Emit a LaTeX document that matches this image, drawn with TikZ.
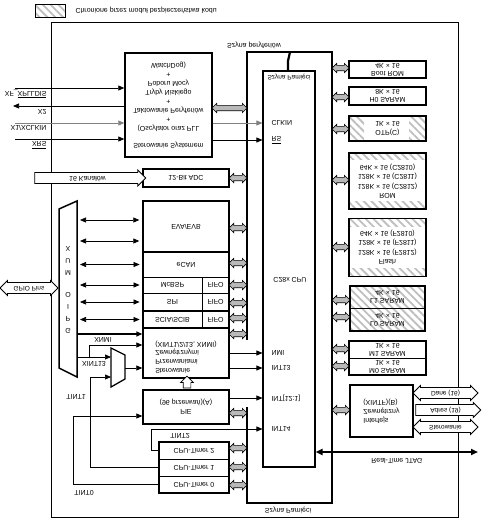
\documentclass[tikz,border=0pt]{standalone}
\usepackage{fontspec}
\setmainfont{Liberation Sans}
\usetikzlibrary{arrows.meta,shapes.arrows,patterns.meta}

\newcommand{\busarr}[4]{\node[busarr={#3pt-#2pt}] (#1) at ({(#2+#3)/2},#4) {};}

\begin{document}
\begin{tikzpicture}[x=1pt,y=1pt,yscale=-1,
    every node/.append style={transform shape,font=\fontsize{7}{9}\selectfont},
    blk/.style={draw,line width=1.4pt,inner sep=0pt,align=center},
    cell/.style={draw,line width=0.8pt,inner sep=0pt,align=center},
    sig/.style={line width=0.7pt,-{Triangle[length=6pt,width=5pt]}},
    bidir/.style={line width=0.7pt,{Triangle[length=6pt,width=5pt]}-{Triangle[length=6pt,width=5pt]},shorten <=3pt,shorten >=3pt},
    bus/.style={line width=2.2pt},
    hatch/.style={pattern={Lines[angle=-45,distance=5.5pt,line width=1.8pt]},pattern color=gray!50},
    busarr/.style={double arrow,draw,fill=gray!55,line width=0.7pt,inner sep=2.3pt,double arrow head extend=2pt,minimum height=#1},
    fat/.style={draw,fill=white,line width=0.8pt,inner sep=1.8pt,text height=5pt,text depth=1.5pt}]
\useasboundingbox (0,0) rectangle (482,522);

% legenda
\fill[hatch] (35,4) rectangle (65,17);
\node[draw,line width=0.7pt,minimum width=30pt,minimum height=13pt] (legbox) at (50,10.5) {};
\node[anchor=west] (legtxt) at (72,10.5) {Chronione przez moduł bezpieczeństwa kodu};

% ramka
\draw[line width=0.6pt] (51,22) rectangle (458,517);

% szyny
\draw[bus] (247,340) -- (247,52) -- (332,52) -- (332,503) -- (247,503) -- (247,407);
\draw[bus] (288,71) -- (288,61) -- (290,52);
\node (perbus) at (254,45) {Szyna peryferiów};
\node (membus) at (288,510) {Szyna Pamięci};

% CPU
\node[blk,line width=1.1pt,minimum width=52pt,minimum height=396pt] (cpu) at (289,269) {};
\node[font=\fontsize{6.5}{8}\selectfont] (cpumem) at (289,77) {Szyna Pamięci};
\node (cpulbl) at (290,280) {C28x CPU};
\node[anchor=west] (clkin) at (268,123) {CLKIN};
\node[anchor=west] (rs) at (268,140) {$\overline{\mbox{RS}}$};
\node[anchor=west] (nmi) at (268,353) {NMI};
\node[anchor=west] (int13) at (268,368) {INT13};
\node[anchor=west] (intx) at (268,398) {INT[12:1]};
\node[anchor=west] (int14) at (268,429) {INT14};

% sterowanie systemem
\node[blk,minimum width=87pt,minimum height=104pt] (sysctl) at (168.5,105)
  {Sterowanie Systemem\\[8pt](Oscylator oraz PLL\\+\\Taktowanie Peryferiów\\+\\Tryby Niskiego\\Poboru Mocy\\+\\WatchDog)};
\coordinate (pxf) at (15,88);
\coordinate (px2) at (13,106);
\coordinate (px1) at (15,123);
\coordinate (pxrs) at (15,139);
\draw[sig] (pxf) -- (sysctl.west |- pxf);
\draw[sig] (sysctl.west |- px2) -- (px2);
\draw[sig,gray] (px1) -- (sysctl.west |- px1);
\draw[sig] (pxrs) -- (sysctl.west |- pxrs);
\draw[sig,gray] (sysctl.east |- clkin) -- (cpu.west |- clkin);
\draw[sig] (sysctl.east |- rs) -- (cpu.west |- rs);
\node[anchor=east] (xflbl) at (50,94) {XF\_$\overline{\mbox{XPLLDIS}}$};
\node[anchor=east] (x2lbl) at (50,112) {X2};
\node[anchor=east] (x1lbl) at (50,128) {X1/XCLKIN};
\node[anchor=east] (xrslbl) at (50,145) {$\overline{\mbox{XRS}}$};

% ADC
\node[blk,minimum width=86pt,minimum height=18pt] (adc) at (186,178) {12-Bit ADC};
\node[fat,single arrow,single arrow head extend=2.5pt,minimum height=111pt] (adcin) at (87.5,178) {16 Kanałów};

% peryferia
\node[blk,minimum width=86pt,minimum height=51pt] (evab) at (186,226.5) {EVA/EVB};
\node[cell,minimum width=86pt,minimum height=25pt] (ecan) at (186,264.5) {eCAN};
\node[cell,minimum width=59pt,minimum height=16pt] (mcbsp) at (172.5,285) {McBSP};
\node[cell,minimum width=27pt,minimum height=16pt] (fifoa) at (215.5,285) {FIFO};
\node[cell,minimum width=59pt,minimum height=18pt] (spi) at (172.5,302) {SPI};
\node[cell,minimum width=27pt,minimum height=18pt] (fifob) at (215.5,302) {FIFO};
\node[cell,minimum width=59pt,minimum height=17pt] (scia) at (172.5,319.5) {SCIA/SCIB};
\node[cell,minimum width=27pt,minimum height=17pt] (fifoc) at (215.5,319.5) {FIFO};
\draw[line width=1.3pt] (143,311) -- (229,311);
\node[blk,minimum width=86pt,minimum height=50pt] (extint) at (186,353) {};
\node[align=left,font=\fontsize{7}{8.7}\selectfont] (extlbl) at (186,357)
  {Sterowanie\\Przerwaniami\\Zewnętrznymi\\(XINT1/2/13, XNMI)};
\draw[blk] (143,201) rectangle (229,378);

% GPIO MUX
\draw[line width=1.5pt] (59,209) -- (77,201) -- (77,377) -- (59,368) -- cycle;
\coordinate (muxr) at (77,289);
\node[align=center,font=\fontsize{7}{12}\selectfont] (muxlbl) at (68,289.5) {G\\P\\I\\O\\[10pt]M\\U\\X};
\node[fat,double arrow,double arrow head extend=2pt,minimum height=58pt,font=\fontsize{6.5}{8}\selectfont] (gpio) at (29,288) {GPIO Pins};
\draw[bidir] (muxr |- 0,220) -- (evab.west |- 0,220);
\draw[bidir] (muxr |- 0,241) -- (evab.west |- 0,241);
\draw[bidir] (muxr |- ecan) -- (ecan.west);
\draw[bidir] (muxr |- mcbsp) -- (mcbsp.west);
\draw[bidir] (muxr |- spi) -- (spi.west);
\draw[bidir] (muxr |- scia) -- (scia.west);
\draw[sig,line width=1.4pt] (muxr |- 0,334) -- (extint.west |- 0,334);

% multiplekser XINT13 / TINT1
\draw[line width=1.3pt] (111,348) -- (125,355) -- (125,379) -- (111,387) -- cycle;
\coordinate (m2in) at (111,357);
\coordinate (m2tin) at (111,377);
\coordinate (m2out) at (125,368);
\coordinate (xnmi) at (89,357);
\draw[sig] (muxr |- m2in) -- (m2in);
\draw[sig] (xnmi) -- (89,345) -- (extint.west |- 0,345);
\draw[sig] (m2out) -- (extint.west |- m2out);
\node (xnmilbl) at (103,340) {XNMI};
\node (xint13lbl) at (94,364) {XINT13};
\draw[sig] (extint.east |- nmi) -- (cpu.west |- nmi);
\draw[sig] (extint.east |- int13) -- (cpu.west |- int13);

% PIE
\node[blk,minimum width=86pt,minimum height=34pt] (pie) at (186,407) {PIE\\(96 przerwań)(A)};
\node[single arrow,draw,fill=white,line width=0.7pt,rotate=-90,inner sep=3.5pt,single arrow head extend=2.5pt,minimum height=12pt] (extpie) at (187,384) {};
\draw[sig] (pie.east |- intx) -- (cpu.west |- intx);

% CPU-Timery
\node[cell,minimum width=70pt,minimum height=17pt] (t2) at (194,450.5) {CPU-Timer 2};
\node[cell,minimum width=70pt,minimum height=17pt] (t1) at (194,467.5) {CPU-Timer 1};
\node[cell,minimum width=70pt,minimum height=17pt] (t0) at (194,484.5) {CPU-Timer 0};
\draw[line width=1.4pt] (159,442) rectangle (229,493);
\draw[sig] (t0.west) -- (73,484.5) -- (73,416) -- (pie.west |- 0,416);
\draw[sig] (t1.west) -- (90,467.5) -- (90,377) -- (m2tin);
\draw[sig] (t2.west) -- (151,450.5) -- (151,429) -- (cpu.west |- int14);
\node (tint0) at (84,493) {TINT0};
\node (tint1) at (76,397) {TINT1};
\node (tint2) at (180,436) {TINT2};

% pamiec
\fill[hatch] (349,116) rectangle (364,141);
\fill[hatch] (409,116) rectangle (426,141);
\fill[hatch] (349,152) rectangle (426,159);
\fill[hatch] (349,201) rectangle (426,208);
\fill[hatch] (349,218) rectangle (426,226);
\fill[hatch] (349,268) rectangle (426,276);
\fill[hatch] (350,286) rectangle (425,331);
\node[blk,minimum width=77pt,minimum height=17pt] (boot) at (387.5,69.5) {Boot ROM\\[-1pt]4K × 16};
\node[blk,minimum width=77pt,minimum height=18pt] (h0) at (387.5,96) {H0 SARAM\\[-1pt]8K × 16};
\node[blk,minimum width=77pt,minimum height=25pt] (otp) at (387.5,128.5) {OTP(C)\\1K × 16};
\node[blk,minimum width=77pt,minimum height=56pt,font=\fontsize{7}{9.5}\selectfont] (rom) at (387.5,181)
  {ROM\\128K × 16 (C2812)\\128K × 16 (C2811)\\64K × 16 (C2810)};
\node[blk,minimum width=77pt,minimum height=58pt,font=\fontsize{7}{9.5}\selectfont] (flash) at (387.5,247.5)
  {Flash\\128K × 16 (F2812)\\128K × 16 (F2811)\\64K × 16 (F2810)};
\node[cell,minimum width=75pt,minimum height=22pt] (l1) at (387.5,297) {L1 SARAM\\[-1pt]4K × 16};
\node[cell,minimum width=75pt,minimum height=23pt] (l0) at (387.5,319.5) {L0 SARAM\\[-1pt]4K × 16};
\draw[line width=1.4pt] (350,286) rectangle (425,331);
\node[cell,minimum width=77pt,minimum height=17pt] (m1) at (387.5,349.5) {M1 SARAM\\[-1pt]1K × 16};
\node[cell,minimum width=77pt,minimum height=17pt] (m0) at (387.5,366.5) {M0 SARAM\\[-1pt]1K × 16};
\draw[line width=1.4pt] (349,341) rectangle (426,375);

% XINTF
\node[blk,minimum width=63pt,minimum height=52pt,align=left] (xintf) at (381.5,411) {Interfejs\\Zewnętrzny\\(XINTF)(B)};
\node[fat,double arrow,double arrow head extend=2pt,minimum height=65pt,font=\fontsize{6.5}{8}\selectfont] (dane) at (445.5,393) {Dane (16)};
\node[fat,single arrow,single arrow head extend=2pt,minimum height=65pt,font=\fontsize{6.5}{8}\selectfont] (adres) at (445.5,410) {Adres (19)};
\node[fat,double arrow,double arrow head extend=2pt,minimum height=65pt,font=\fontsize{6.5}{8}\selectfont] (ster) at (445.5,427) {Sterowanie};

% JTAG
\coordinate (jtag) at (478,452);
\draw[line width=1.9pt,{Triangle[length=7pt,width=6pt]}-{Triangle[length=7pt,width=6pt]}] (cpu.east |- jtag) -- (jtag);
\node (jtaglbl) at (397,461) {Real-Time JTAG};

% strzalki szyn
\busarr{bsys}{212}{247}{108}
\busarr{badc}{229}{247}{178}
\busarr{bev}{229}{247}{228}
\busarr{bcan}{229}{247}{263}
\busarr{bmcb}{229}{247}{285}
\busarr{bspi}{229}{247}{303}
\busarr{bsci}{229}{247}{318}
\busarr{bext}{229}{247}{334}
\busarr{bpie}{229}{247}{413}
\busarr{bt2}{229}{247}{448}
\busarr{bt1}{229}{247}{467}
\busarr{bt0}{229}{247}{485}
\busarr{mboot}{332}{349}{68}
\busarr{mh0}{332}{349}{97}
\busarr{motp}{332}{349}{129}
\busarr{mrom}{332}{349}{180}
\busarr{mfl}{332}{349}{247}
\busarr{ml1}{332}{350}{300}
\busarr{ml0}{332}{350}{317}
\busarr{mm1}{332}{349}{349}
\busarr{mm0}{332}{349}{366}
\busarr{mxif}{332}{350}{410}
\end{tikzpicture}
\end{document}
